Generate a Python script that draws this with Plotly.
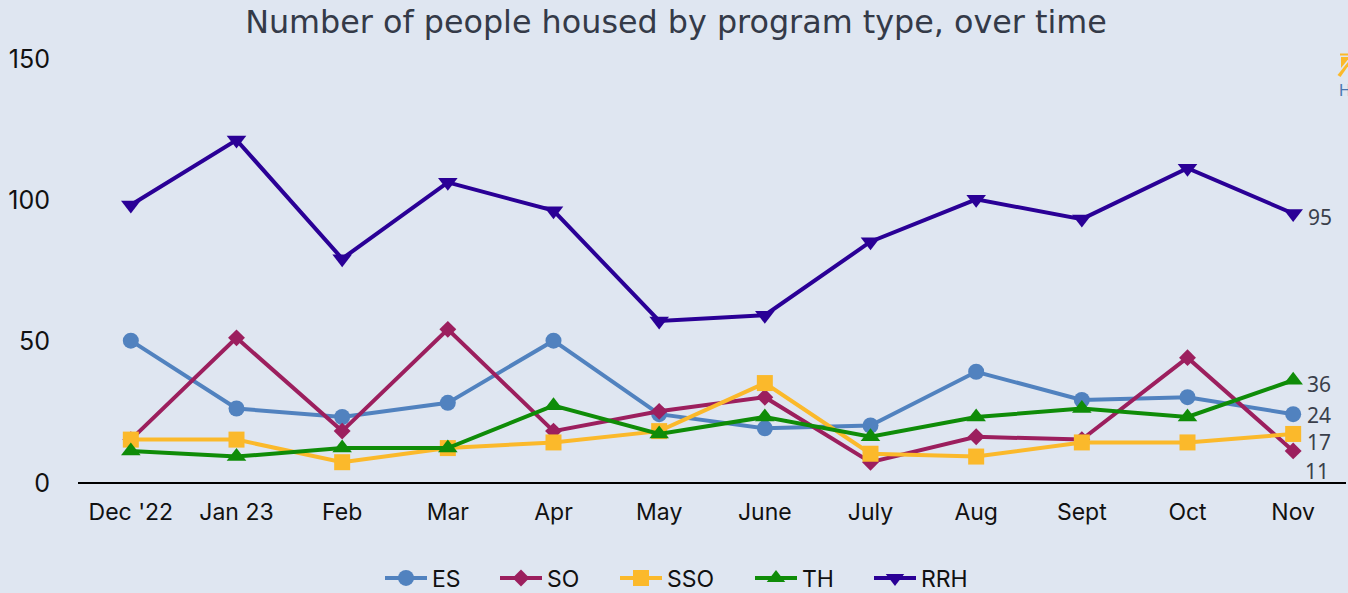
import plotly.graph_objects as go

months = ["Dec '22", "Jan 23", "Feb", "Mar", "Apr", "May", "June", "July", "Aug", "Sept", "Oct", "Nov"]
es = [50, 26, 23, 28, 50, 24, 19, 20, 39, 29, 30, 24]
so = [15, 51, 18, 54, 18, 25, 30, 7, 16, 15, 44, 11]
sso = [15, 15, 7, 12, 14, 18, 35, 10, 9, 14, 14, 17]
th = [11, 9, 12, 12, 27, 17, 23, 16, 23, 26, 23, 36]
rrh = [98, 121, 79, 106, 96, 57, 59, 85, 100, 93, 111, 95]
y_ticks = [0, 50, 100, 150]

W, H = 1348, 593
L, T, R, B = 78, 58, 2, 111

series = [
    ("ES", es, "#5182BF", "circle", 16, "legend", 380),
    ("SO", so, "#9C1F5E", "diamond", 13, "legend2", 495),
    ("SSO", sso, "#FBB92B", "square", 16, "legend3", 615),
    ("TH", th, "#0F8C08", "triangle-up", 17, "legend4", 750),
    ("RRH", rrh, "#2A0096", "triangle-down", 17, "legend5", 869),
]
end_shifts = {"RRH": (27, -4), "TH": (26, -4), "ES": (26, -1), "SSO": (26, -8), "SO": (24, -20)}


def px(x):
    return (x - L) / (W - L - R)


def py(y):
    return (H - B - y) / (H - T - B)


def path(points):
    return "M " + " L ".join(f"{px(a):.5f} {py(b):.5f}" for a, b in points) + " Z"


fig = go.Figure()
legends = {}
for name, vals, color, sym, size, leg, leg_x in series:
    fig.add_trace(go.Scatter(
        x=months, y=vals, name=name, mode="lines+markers", cliponaxis=False, legend=leg,
        line=dict(color=color, width=4),
        marker=dict(color=color, symbol=sym, size=size),
    ))
    legends[leg] = dict(orientation="h", x=leg_x / W, xref="container", xanchor="left",
                        y=py(578), yref="paper", yanchor="middle", itemwidth=42,
                        bgcolor="rgba(0,0,0,0)", font=dict(family="Inter", size=23, color="#111111"))
    dx, dy = end_shifts[name]
    fig.add_annotation(x=months[-1], y=vals[-1], text=str(vals[-1]), showarrow=False,
                       xshift=dx, yshift=dy,
                       font=dict(family="Noto Sans", size=21, color="#3A3F4B"))

# clipped logo fragment at the top-right corner of the page
logo = [
    [(1340, 53.5), (1350, 53.5), (1350, 55.5), (1340, 55.5)],
    [(1341, 57), (1350, 57), (1341, 68)],
    [(1337.5, 75), (1350, 59.5), (1350, 63.5), (1340.5, 77)],
]
for pts in logo:
    fig.add_shape(type="path", xref="paper", yref="paper", path=path(pts),
                  fillcolor="#FBB92B", line_width=0, layer="above")
fig.add_annotation(xref="paper", yref="paper", x=px(1337), y=py(90), xanchor="left", yanchor="middle",
                   text="H", showarrow=False, font=dict(family="Inter", size=16, color="#4A76B0"))

fig.update_layout(
    width=W, height=H,
    margin=dict(l=L, r=R, t=T, b=B, autoexpand=False),
    paper_bgcolor="#DFE6F1", plot_bgcolor="#DFE6F1",
    title=dict(text="Number of people housed by program type, over time",
               x=676 / W, xanchor="center", y=1 - 22 / H, yanchor="middle",
               font=dict(family="DejaVu Sans", size=31.8, color="#343A48")),
    font=dict(family="Inter", size=23, color="#111111"),
    xaxis=dict(type="category", range=[-0.5, 11.5], showgrid=False, showline=True,
               linecolor="#000000", linewidth=2, ticks="", ticklabelstandoff=8,
               tickfont=dict(family="Inter", size=23), zeroline=False),
    yaxis=dict(range=[0, 150], tickvals=y_ticks, showgrid=False, showline=False,
               ticks="", ticklabelstandoff=27, ticklabelshift=1, zeroline=False,
               tickfont=dict(family="Inter", size=25)),
    showlegend=True,
    **legends,
)
fig.write_html("out.html", config={"displayModeBar": False},
               post_script="document.body.style.margin='0';document.body.style.overflow='hidden';")
